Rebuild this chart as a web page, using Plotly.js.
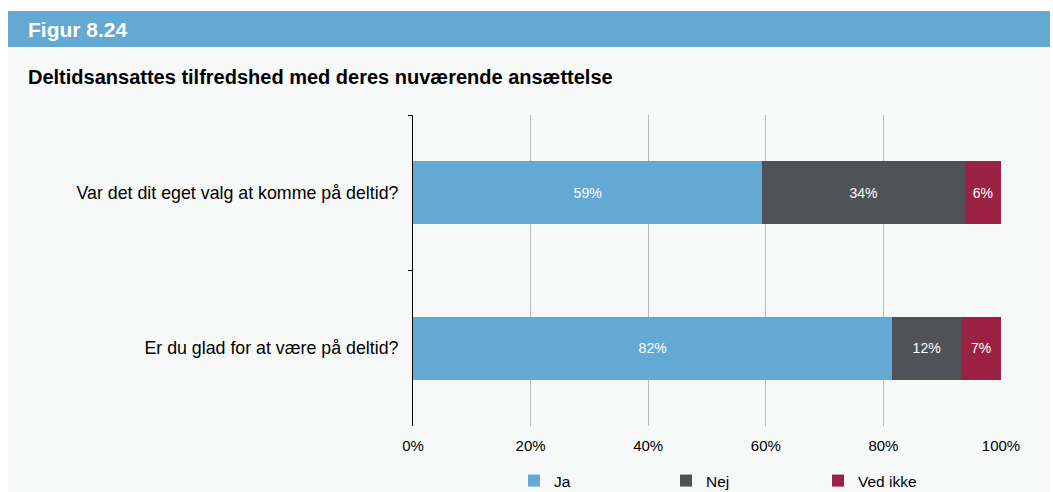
<!DOCTYPE html>
<html>
<head>
<meta charset="utf-8">
<script src="https://cdn.plot.ly/plotly-3.0.1.min.js"></script>
<style>
html,body{margin:0;padding:0;background:#fff;}
#chart{width:1053px;height:492px;}
</style>
</head>
<body>
<div id="chart"></div>
<script>
const categories = ["Var det dit eget valg at komme på deltid?", "Er du glad for at være på deltid?"];
const seriesNames = ["Ja", "Nej", "Ved ikke"];
const ja = [59.4, 81.5];
const nej = [34.4, 11.7];
const vedIkke = [6.2, 6.8];
const xTickVals = [0, 20, 40, 60, 80, 100];
const xTickText = ["0%", "20%", "40%", "60%", "80%", "100%"];
const colors = ["#63a9d4", "#515257", "#9b2244"];
const headerText = "Figur 8.24";
const titleText = "Deltidsansattes tilfredshed med deres nuværende ansættelse";

const FONT = "Liberation Sans, Arial, Helvetica, sans-serif";
const values = [ja, nej, vedIkke];

const traces = values.map((v, i) => ({
  type: "bar",
  orientation: "h",
  name: seriesNames[i],
  y: categories,
  x: v,
  marker: {color: colors[i], line: {width: 0}},
  texttemplate: "%{x:.0f}%",
  textposition: "inside",
  insidetextanchor: "middle",
  textfont: {color: "#ffffff", size: 14, family: FONT},
  hoverinfo: "skip"
}));

const W = 1053, H = 492;
const L = 413, R = 52, T = 115, B = 66;
const pw = W - L - R, ph = H - T - B;
const px = x => (x - L) / pw;
const py = y => (H - B - y) / ph;

const layout = {
  width: W, height: H,
  margin: {l: L, r: R, t: T, b: B, pad: 0, autoexpand: false},
  paper_bgcolor: "#ffffff",
  plot_bgcolor: "rgba(0,0,0,0)",
  barmode: "stack",
  bargap: 0.595,
  font: {family: FONT, color: "#000000", size: 14},
  showlegend: true,
  legend: {
    orientation: "h",
    x: px(742), xanchor: "center",
    y: py(481), yanchor: "middle",
    entrywidth: 107, entrywidthmode: "pixels",
    itemwidth: 30,
    font: {size: 15.5, family: FONT, color: "#000"},
    bgcolor: "rgba(0,0,0,0)",
    traceorder: "normal"
  },
  xaxis: {
    range: [0, 100],
    tickvals: xTickVals,
    ticktext: xTickText,
    showgrid: true,
    gridcolor: "#b9b9b9",
    gridwidth: 1,
    zeroline: false,
    showline: false,
    ticks: "",
    ticklabelstandoff: 9,
    tickfont: {size: 15, family: FONT, color: "#000"},
    fixedrange: true
  },
  yaxis: {
    type: "category",
    categoryorder: "array",
    categoryarray: categories,
    autorange: "reversed",
    showline: true,
    linecolor: "#000000",
    linewidth: 1,
    ticks: "outside",
    tickson: "boundaries",
    ticklen: 4,
    tickcolor: "#000000",
    showgrid: false,
    zeroline: false,
    ticklabelstandoff: 10,
    tickfont: {size: 17.8, family: FONT, color: "#000"},
    fixedrange: true
  },
  shapes: [
    {type: "rect", xref: "paper", yref: "paper", layer: "below",
     x0: px(8), x1: px(1050), y0: py(492), y1: py(47),
     fillcolor: "#f7f9f9", line: {width: 0}},
    {type: "rect", xref: "paper", yref: "paper", layer: "below",
     x0: px(8), x1: px(1050), y0: py(47), y1: py(11),
     fillcolor: "#63a9d4", line: {width: 0}}
  ],
  annotations: [
    {text: "<b>" + headerText + "</b>", xref: "paper", yref: "paper",
     x: px(26), y: py(29), xanchor: "left", yanchor: "middle", showarrow: false,
     font: {size: 21, color: "#ffffff", family: FONT}},
    {text: "<b>" + titleText + "</b>", xref: "paper", yref: "paper",
     x: px(26), y: py(77), xanchor: "left", yanchor: "middle", showarrow: false,
     font: {size: 20, color: "#000000", family: FONT}}
  ]
};

Plotly.newPlot("chart", traces, layout, {displayModeBar: false, staticPlot: true});
</script>
</body>
</html>
